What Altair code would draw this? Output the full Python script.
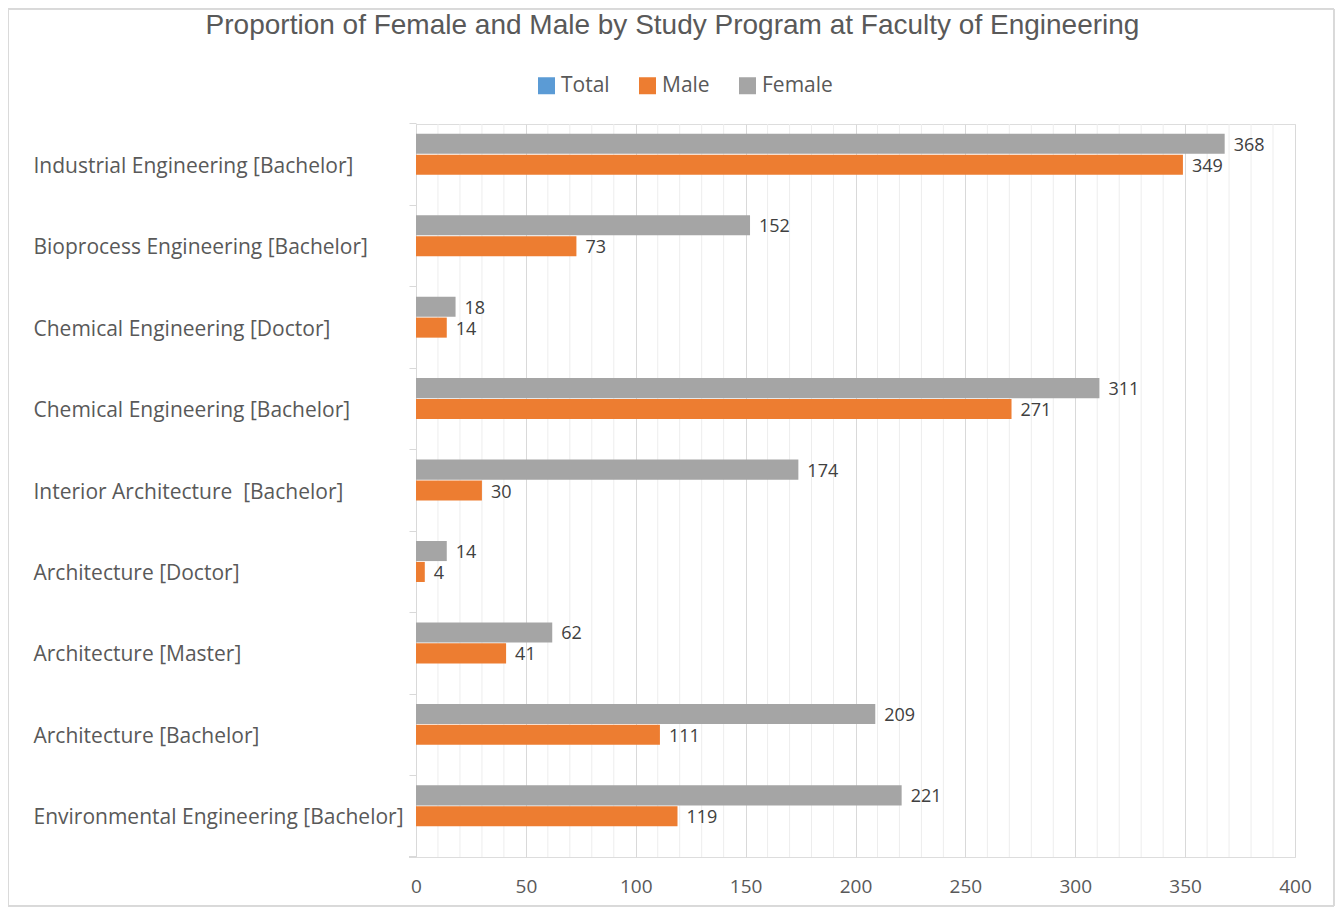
import altair as alt
import pandas as pd

programs = [
    "Industrial Engineering [Bachelor]",
    "Bioprocess Engineering [Bachelor]",
    "Chemical Engineering [Doctor]",
    "Chemical Engineering [Bachelor]",
    "Interior Architecture  [Bachelor]",
    "Architecture [Doctor]",
    "Architecture [Master]",
    "Architecture [Bachelor]",
    "Environmental Engineering [Bachelor]",
]
female = [368, 152, 18, 311, 174, 14, 62, 209, 221]
male = [349, 73, 14, 271, 30, 4, 41, 111, 119]

series_order = ["Total", "Male", "Female"]
series_colors = ["#5B9BD5", "#ED7D31", "#A5A5A5"]
offset_order = ["Female", "Male", "Total"]
major_ticks = [0, 50, 100, 150, 200, 250, 300, 350, 400]
minor_ticks = [v for v in range(0, 401, 10) if v % 50 != 0]

rows = []
for p, f, m in zip(programs, female, male):
    rows.append({"program": p, "series": "Female", "value": f})
    rows.append({"program": p, "series": "Male", "value": m})
df = pd.DataFrame(rows)
minor_df = pd.DataFrame({"value": minor_ticks})

W, H = 879, 733
FONT = "Open Sans"

x_scale = alt.Scale(domain=[0, 400], nice=False)
x_axis = alt.Axis(
    title=None,
    values=major_ticks,
    labelOverlap=False,
    labelFlush=False,
    labelFontSize=19,
    labelFont=FONT,
    labelColor="#595959",
    labelPadding=20,
    ticks=False,
    domain=False,
    gridColor="#D9D9D9",
    gridWidth=1,
)

y_enc = alt.Y(
    "program:N",
    sort=programs,
    scale=alt.Scale(paddingInner=0.24, paddingOuter=0.12),
    axis=alt.Axis(
        title=None,
        labelAlign="left",
        labelPadding=376,
        labelLimit=0,
        labelOffset=2,
        labelExpr="replace(datum.label, '  ', ' \u00a0')",
        labelFontSize=21,
        labelFont=FONT,
        labelColor="#595959",
        tickSize=7,
        tickColor="#D9D9D9",
        domainColor="#D9D9D9",
        bandPosition=-0.158,
    ),
)
yoff = alt.YOffset("series:N", sort=offset_order, scale=alt.Scale(domain=offset_order, paddingInner=0.04))

minor_grid = alt.Chart(minor_df).mark_rule(color="#EDEDED", strokeWidth=1).encode(
    x=alt.X("value:Q", scale=x_scale, axis=x_axis),
    y=alt.value(0),
    y2=alt.value(H),
)

bars = alt.Chart(df).mark_bar().encode(
    y=y_enc,
    x=alt.X("value:Q", scale=x_scale, axis=x_axis),
    yOffset=yoff,
    color=alt.Color(
        "series:N",
        scale=alt.Scale(domain=series_order, range=series_colors),
        legend=alt.Legend(
            title=None,
            orient="none",
            direction="horizontal",
            legendX=120,
            legendY=-49,
            symbolType="square",
            symbolSize=289,
            symbolStrokeWidth=0,
            labelFontSize=21,
            labelFont=FONT,
            labelColor="#595959",
            columnPadding=27,
            labelOffset=4,
        ),
    ),
)

labels = alt.Chart(df).mark_text(
    align="left", baseline="middle", dx=9, dy=2, fontSize=18, font=FONT, color="#404040"
).encode(
    y=alt.Y("program:N", sort=programs),
    x=alt.X("value:Q", scale=x_scale, axis=x_axis),
    yOffset=alt.YOffset("series:N", sort=offset_order),
    text="value:Q",
)

frame = alt.Chart(df).mark_rect(
    fillOpacity=0, stroke="#D9D9D9", strokeWidth=1, clip=False
).encode(
    x=alt.value(-408), x2=alt.value(918), y=alt.value(-115), y2=alt.value(782)
)

bottom_tick = alt.Chart(df).mark_rule(color="#D9D9D9", clip=False).encode(
    x=alt.value(-7), x2=alt.value(0), y=alt.value(H)
)

chart = alt.layer(minor_grid, frame, bottom_tick, bars, labels).properties(
    width=W,
    height=H,
    title=alt.Title(
        "Proportion of Female and Male by Study Program at Faculty of Engineering",
        fontSize=28,
        font="Liberation Sans",
        fontWeight="normal",
        color="#595959",
        anchor="middle",
        frame="group",
        dx=-183,
        offset=-31,
    ),
    autosize=alt.AutoSizeParams(type="none"),
    padding={"left": 408, "top": 116, "right": 40, "bottom": 50},
).configure_view(stroke=None).configure(background="white")

chart.save("out.html", embed_options={"renderer": "svg", "actions": False})
